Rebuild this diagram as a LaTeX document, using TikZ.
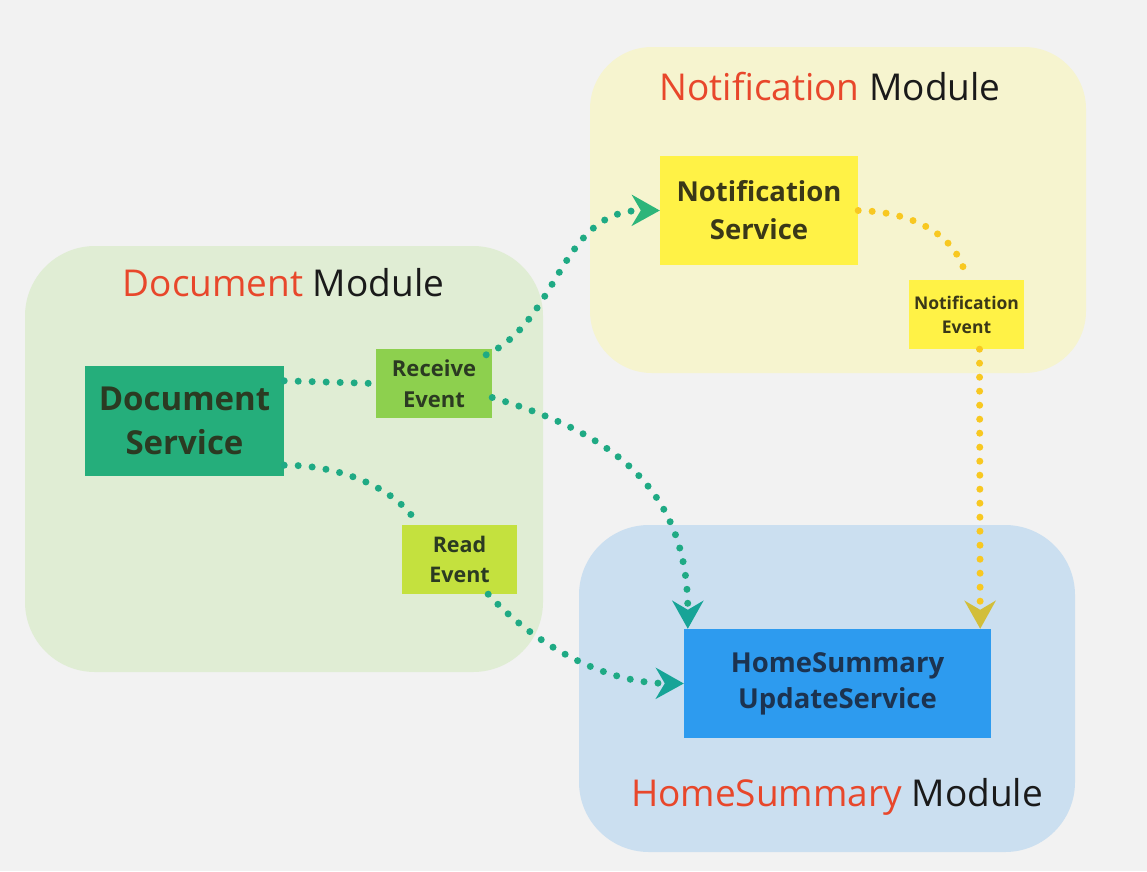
\documentclass[tikz,border=0pt]{standalone}
\usepackage{fontspec}
\setmainfont{Open Sans}
\usetikzlibrary{arrows.meta}
\definecolor{bg}{HTML}{F2F2F2}
\definecolor{dmfill}{HTML}{E0EDD4}
\definecolor{nmfill}{HTML}{F6F4CF}
\definecolor{hmfill}{HTML}{CBDFF0}
\definecolor{dsfill}{HTML}{25AE7B}
\definecolor{refill}{HTML}{8DD04E}
\definecolor{rdfill}{HTML}{C4E13E}
\definecolor{nsfill}{HTML}{FFF246}
\definecolor{hsfill}{HTML}{2D9BEF}
\definecolor{gtext}{HTML}{2B3A22}
\definecolor{ytext}{HTML}{3A3818}
\definecolor{btext}{HTML}{1C3350}
\definecolor{titred}{HTML}{E8472B}
\definecolor{titdark}{HTML}{1A1A1A}
\definecolor{teal}{HTML}{1FAA84}
\definecolor{tealtip}{HTML}{17A497}
\definecolor{tealtipg}{HTML}{2DB57A}
\definecolor{yel}{HTML}{F8C821}
\definecolor{yeltip}{HTML}{D2BE3A}
\tikzset{
  module/.style={fill=#1, draw=none, rounded corners=70pt, inner sep=0pt},
  title/.style={font=\fontsize{37}{40}\selectfont, inner sep=0pt},
  svc/.style={fill=#1, draw=none, inner sep=0pt, align=center},
  dots/.style={draw=#1, line width=7pt, line cap=round, dash pattern=on 0pt off 14pt},
}
\begin{document}
\begin{tikzpicture}[x=1pt,y=-1pt]
\useasboundingbox (0,0) rectangle (1147,871);
\fill[bg] (0,0) rectangle (1147,871);
% modules
\node[module=dmfill, minimum width=518pt, minimum height=426pt] (dm) at (284,459) {};
\node[module=nmfill, minimum width=496pt, minimum height=326pt, rounded corners=62pt] (nm) at (838,210) {};
\node[module=hmfill, minimum width=496pt, minimum height=327pt] (hm) at (827,688.5) {};
\node[title] (dmt) at (283.5,283) {\textcolor{titred}{Document} \textcolor{titdark}{Module}};
\node[title] (nmt) at (830,87) {\textcolor{titred}{Notification} \textcolor{titdark}{Module}};
\node[title] (hmt) at (837,797) {\textcolor{titred}{HomeSummary} \textcolor{titdark}{Module}};
% services
\node[svc=dsfill, minimum width=199pt, minimum height=110pt, text=gtext,
  font=\fontsize{33}{44}\selectfont\bfseries] (ds) at (184.5,421) {Document\\Service};
\node[svc=refill, minimum width=116pt, minimum height=69pt, text=gtext,
  font=\fontsize{22}{31}\selectfont\bfseries] (re) at (434,383.5) {Receive\\Event};
\node[svc=rdfill, minimum width=115pt, minimum height=69pt, text=gtext,
  font=\fontsize{21.5}{30}\selectfont\bfseries] (rd) at (459.5,559.5) {Read\\Event};
\node[svc=nsfill, minimum width=198pt, minimum height=109pt, text=ytext,
  font=\fontsize{27.5}{38}\selectfont\bfseries] (ns) at (759,210.5) {Notification\\Service};
\node[svc=nsfill, minimum width=115pt, minimum height=69pt, text=ytext,
  font=\fontsize{17.5}{24}\selectfont\bfseries] (ne) at (966.5,314.5) {Notification\\Event};
\node[svc=hsfill, minimum width=307pt, minimum height=109pt, text=btext,
  font=\fontsize{27.5}{36}\selectfont\bfseries] (hs) at (837.5,683.5) {HomeSummary\\UpdateService};
% connectors
\draw[dots=teal] ([yshift=-15pt]ds.north east) -- (re.west);
\draw[dots=teal, -{Stealth[length=28pt,width=31pt,inset=9pt,color=tealtipg]}]
  ([xshift=-6pt,yshift=-6pt]re.north east) .. controls (560,320) and (560,210) .. (ns.west);
\draw[dots=teal, -{Stealth[length=28pt,width=31pt,inset=9pt,color=tealtip]}]
  ([yshift=-14pt]re.east) .. controls (600,430) and (688,480) .. ([xshift=4pt]hs.north west);
\draw[dots=teal] ([yshift=11pt]ds.south east) .. controls (350,465) and (402,495) .. ([xshift=16pt]rd.north west);
\draw[dots=teal, -{Stealth[length=28pt,width=31pt,inset=9pt,color=tealtip]}]
  ([xshift=-29pt]rd.south east) .. controls (530,640) and (600,683) .. (hs.west);
\draw[dots=yel] (ns.east) .. controls (920,212) and (960,240) .. (ne.north);
\draw[dots=yel, -{Stealth[length=28pt,width=31pt,inset=9pt,color=yeltip]}]
  ([xshift=13pt]ne.south) -- ([xshift=-11pt]hs.north east);
\end{tikzpicture}
\end{document}
